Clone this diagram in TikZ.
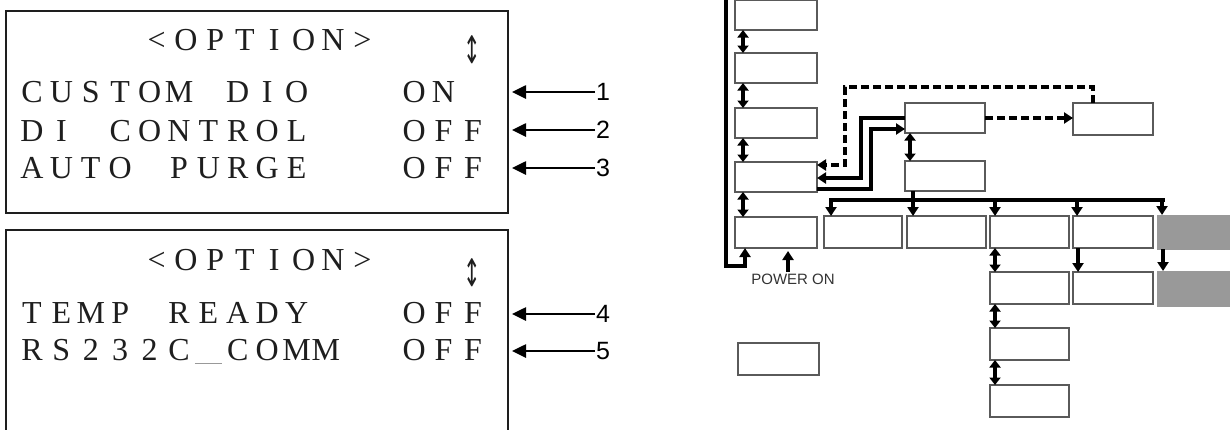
\documentclass[tikz,border=0pt]{standalone}
\usepackage{fontspec}
\usetikzlibrary{arrows.meta}
\newfontfamily\lcdfont{Liberation Serif}
\newfontfamily\sansf{Liberation Sans}
\newfontfamily\symf{DejaVu Sans}
\definecolor{boxgray}{HTML}{5A5A5A}
\definecolor{fillgray}{HTML}{999999}
\definecolor{txt}{HTML}{1E1E1E}
\def\us{\textcolor{gray!80}{\rule[-4pt]{27pt}{1pt}}}
\def\lcd#1{\lcdA#1\relax}
\def\lcdA#1{\ifx#1\relax\else\makebox[29.4pt]{#1}\expandafter\lcdA\fi}
\tikzset{
  panel/.style={draw=txt, line width=1.1pt, inner sep=0pt, outer sep=0pt},
  lcdtxt/.style={inner sep=0pt, outer sep=0pt, anchor=base west, text=txt, font=\lcdfont\fontsize{32}{32}\selectfont},
  updown/.style={inner sep=0pt, text=txt, font=\symf\fontsize{38}{38}\selectfont},
  num/.style={inner sep=1pt, anchor=west, font=\sansf\fontsize{25}{25}\selectfont},
  parr/.style={line width=2.6pt, -{Triangle[length=14pt,width=13pt]}},
  box/.style={draw=boxgray, line width=1.3pt, fill=white, inner sep=0pt, outer sep=0pt},
  gbox/.style={fill=fillgray, draw=fillgray, inner sep=0pt, outer sep=0pt},
  conn/.style={line width=3.5pt, black},
  arr/.style={conn, -{Triangle[length=9pt,width=11pt]}},
  dbl/.style={conn, {Triangle[length=7.5pt,width=11pt]}-{Triangle[length=7.5pt,width=11pt]}},
  dsh/.style={conn, dash pattern=on 8pt off 4pt},
  pwr/.style={inner sep=0pt, anchor=north, text=black!80, font=\sansf\fontsize{15}{15}\selectfont},
}
\begin{document}
\begin{tikzpicture}[x=1pt, y=-1pt]
\clip (0,0) rectangle (1230,429);
\fill[white] (0,0) rectangle (1230,429);

% ---------- left panels ----------
\node[panel, minimum width=502pt, minimum height=202pt] (p1) at (257,112) {};
\node[panel, minimum width=502pt, minimum height=210pt] (p2) at (257,335) {};

\node[lcdtxt] (t1) at (141.9,50) {\lcd{<OPTION>}};
\node[updown] (u1) at (472,50) {\scalebox{0.55}[1]{↕}};
\node[lcdtxt] (l1) at (17.3,102) {\lcd{CUSTOM~DIO~~~ON}};
\node[lcdtxt] (l2) at (17.3,141) {\lcd{DI~CONTROL~~~OFF}};
\node[lcdtxt] (l3) at (17.3,178) {\lcd{AUTO~PURGE~~~OFF}};

\node[lcdtxt] (t2) at (141.9,270) {\lcd{<OPTION>}};
\node[updown] (u2) at (472,273) {\scalebox{0.55}[1]{↕}};
\node[lcdtxt] (l4) at (17.3,323) {\lcd{TEMP~READY~~~OFF}};
\node[lcdtxt] (l5) at (17.3,360) {\lcd{RS232C\us COMM~~OFF}};

\coordinate (tipx) at (512,0);
\node[num] (n1) at (595,92) {1};
\node[num] (n2) at (595,130) {2};
\node[num] (n3) at (595,168) {3};
\node[num] (n4) at (595,314) {4};
\node[num] (n5) at (595,351) {5};
\foreach \n in {n1,n2,n3,n4,n5}
  \draw[parr] (\n.west) -- (\n.west -| tipx);

% ---------- right diagram ----------
\node[box, minimum width=82pt, minimum height=30pt] (b1) at (776,15) {};
\node[box, minimum width=82pt, minimum height=30pt] (b2) at (776,68) {};
\node[box, minimum width=82pt, minimum height=30pt] (b3) at (776,123) {};
\node[box, minimum width=82pt, minimum height=30pt] (b4) at (776,177) {};
\node[box, minimum width=82pt, minimum height=31pt] (b5) at (776,232.5) {};

\node[box, minimum width=80pt, minimum height=30pt] (A) at (945,118) {};
\node[box, minimum width=80pt, minimum height=30pt] (B) at (945,176) {};
\node[box, minimum width=80pt, minimum height=32pt] (C) at (1113,119) {};

\node[box, minimum width=78pt, minimum height=32pt] (r1) at (863,232) {};
\node[box, minimum width=79pt, minimum height=32pt] (r2) at (946.5,232) {};
\node[box, minimum width=79pt, minimum height=32pt] (r3) at (1029.5,232) {};
\node[box, minimum width=80pt, minimum height=32pt] (r4) at (1113,232) {};
\node[gbox, minimum width=80pt, minimum height=34pt] (r5) at (1197,232) {};

\node[box, minimum width=79pt, minimum height=32pt] (s3) at (1029.5,288) {};
\node[box, minimum width=80pt, minimum height=32pt] (s4) at (1113,288) {};
\node[gbox, minimum width=80pt, minimum height=35pt] (s5) at (1197,288.5) {};

\node[box, minimum width=79pt, minimum height=32pt] (t3) at (1029.5,344) {};
\node[box, minimum width=79pt, minimum height=32pt] (u3) at (1029.5,401) {};

\node[box, minimum width=81pt, minimum height=32pt] (lone) at (778.5,359) {};

\node[pwr] (pw) at (793,274) {POWER ON};

% left column double arrows
\draw[dbl] ([xshift=-33pt]b1.south) -- ([xshift=-33pt]b2.north);
\draw[dbl] ([xshift=-33pt]b2.south) -- ([xshift=-33pt]b3.north);
\draw[dbl] ([xshift=-33pt]b3.south) -- ([xshift=-33pt]b4.north);
\draw[dbl] ([xshift=-33pt]b4.south) -- ([xshift=-33pt]b5.north);

% outer thick line into b5
\coordinate (lt) at (726,-5);
\coordinate (lb) at (726,266);
\draw[arr] (lt) -- (lb) -| ([xshift=-31pt]b5.south);

% power on arrow
\draw[arr] ([xshift=-5pt,yshift=2pt]pw.north) -- ([xshift=12pt,yshift=-3pt]b5.south);

% A <-> B
\draw[dbl] ([xshift=-35pt]A.south) -- ([xshift=-35pt]B.north);

% dashed loop
\coordinate (dc) at (845,87);
\draw[dsh, -{Triangle[length=9pt,width=11pt]}] ([xshift=-20pt]C.north) |- (dc) |- ([yshift=12pt]b4.east);
\draw[dsh, -{Triangle[length=9pt,width=11pt]}] (A.east) -- (A.east -| C.west);

% solid links between b4 and A
\coordinate (s1) at (861,150);
\coordinate (s2) at (871,160);
\draw[arr] (A.west) -| (s1) |- ([yshift=-1pt]b4.east);
\draw[arr] ([yshift=-12pt]b4.east) -| (s2) |- ([yshift=-11pt]A.west);

% bus from B
\coordinate (busL) at (831,200);
\coordinate (busR) at (1163,200);
\draw[conn] ([xshift=-32pt]B.south) -- ([xshift=-32pt]B.south |- busL);
\draw[conn, line cap=rect] (busL) -- (busR);
\draw[arr] ([xshift=-32pt]r1.north |- busL) -- ([xshift=-32pt]r1.north);
\draw[arr] ([xshift=-33.5pt]r2.north |- busL) -- ([xshift=-33.5pt]r2.north);
\draw[arr] ([xshift=-34.5pt]r3.north |- busL) -- ([xshift=-34.5pt]r3.north);
\draw[arr] ([xshift=-36pt]r4.north |- busL) -- ([xshift=-36pt]r4.north);
\draw[arr] ([xshift=-35pt]r5.north |- busL) -- ([xshift=-35pt]r5.north);

% lower rows
\draw[dbl] ([xshift=-34.5pt]r3.south) -- ([xshift=-34.5pt]s3.north);
\draw[dbl] ([xshift=-34.5pt]s3.south) -- ([xshift=-34.5pt]t3.north);
\draw[dbl] ([xshift=-34.5pt]t3.south) -- ([xshift=-34.5pt]u3.north);
\draw[arr] ([xshift=-35pt]r4.south) -- ([xshift=-35pt]s4.north);
\draw[arr] ([xshift=-34pt]r5.south) -- ([xshift=-34pt]s5.north);
\end{tikzpicture}
\end{document}
